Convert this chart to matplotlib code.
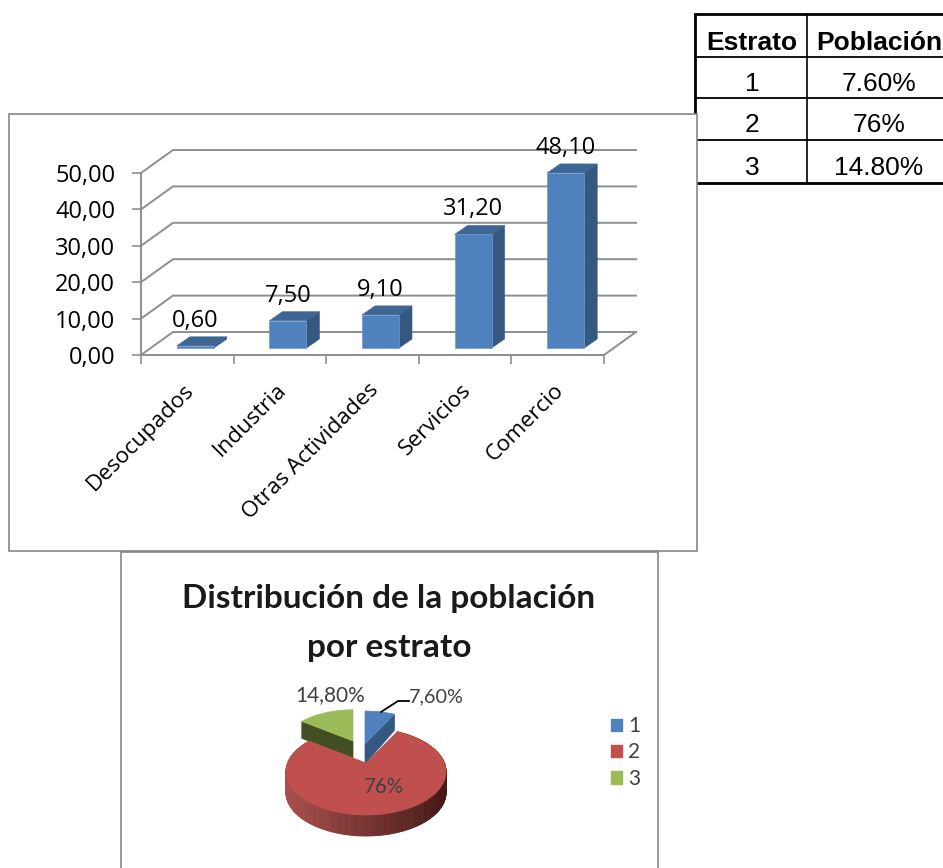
import numpy as np
import matplotlib
matplotlib.use("Agg")
import matplotlib.pyplot as plt
from matplotlib.patches import Polygon, Rectangle, Patch

W, H = 943, 868

# ---- data ----
categories = ["Desocupados", "Industria", "Otras Actividades", "Servicios", "Comercio"]
sector_values = [0.60, 7.50, 9.10, 31.20, 48.10]
y_ticks = [0, 10, 20, 30, 40, 50]

strata = ["1", "2", "3"]
pie_values = [7.6, 76.0, 14.8]
pie_labels = ["7,60%", "76%", "14,80%"]
table_head = ["Estrato", "Población"]
table_pop = ["7.60%", "76%", "14.80%"]
pie_title = "Distribución de la población\npor estrato"

# ---- style ----
GRID = "#8E8E8E"
FRAME = "#868686"
BLUE, BLUE_TOP, BLUE_SIDE = "#4F81BD", "#3F6594", "#34587F"
RED = "#C0504D"
GREEN, GREEN_SIDE = "#9BBB59", "#414F22"
TXT = "#404040"
SANS = "Lato"
OPEN = "Open Sans"
ARIAL = "Liberation Sans"

fig = plt.figure(figsize=(W / 100, H / 100), dpi=100, facecolor="white")

# ---- page layer in pixel units (table, frames, pie) ----
pg = fig.add_axes([0, 0, 1, 1])
pg.set_xlim(0, W)
pg.set_ylim(H, 0)
pg.axis("off")

# table
t_left, t_mid, t_right = 695, 807, 943
t_rows = [14, 57, 98, 140, 183]
pg.plot([t_left, t_left], [t_rows[0], t_rows[-1]], color="k", lw=2.0, zorder=1)
pg.plot([t_mid, t_mid], [t_rows[0], t_rows[-1]], color="k", lw=1.2, zorder=1)
for i, yy in enumerate(t_rows):
    pg.plot([t_left, t_right], [yy, yy], color="k",
            lw=2.0 if i in (0, 4) else 1.3, zorder=1, solid_capstyle="butt")
pg.text((t_left + t_mid) / 2 + 1, 43, table_head[0], family=ARIAL, weight="bold",
        fontsize=19, ha="center", va="center", color="k")
pg.text((t_mid + t_right) / 2 + 4, 43, table_head[1], family=ARIAL, weight="bold",
        fontsize=19, ha="center", va="center", color="k")
for i, (s, p) in enumerate(zip(strata, table_pop)):
    yc = [84, 125, 168][i]
    pg.text((t_left + t_mid) / 2 + 1, yc, s, family=ARIAL, fontsize=19, ha="center", va="center", color="k")
    pg.text((t_mid + t_right) / 2 + 4, yc, p, family=ARIAL, fontsize=19, ha="center", va="center", color="k")

# chart frames
pg.add_patch(Rectangle((9, 114), 688, 437, fc="white", ec=FRAME, lw=1.2, zorder=2))
pg.add_patch(Rectangle((121, 552), 537, 330, fc="white", ec=FRAME, lw=1.2, zorder=2))

# ---- 3-D pie, projected ----
P_CX, P_CY, P_RX, P_RY, P_K, P_D = 366, 763, 78.4, 41.6, 0.2, 21


def project(t, scale=1.0, off=(0, 0)):
    u, v = np.sin(t), np.cos(t)
    d = 1 + P_K * v
    return P_CX + off[0] + scale * P_RX * u / d, P_CY + off[1] - scale * P_RY * v / d


edges = np.deg2rad(np.cumsum([0] + pie_values) / sum(pie_values) * 360)
# slice 1 and 3 are pulled out of the pie
off_b, sc_b = (-1, -19), 0.95
off_g, sc_g = (-13, -22), 0.9

# green slice
tg = np.linspace(edges[2], edges[3], 40)
gx, gy = project(tg, sc_g, off_g)
ax0, ay0 = P_CX + off_g[0], P_CY + off_g[1]
pg.add_patch(Polygon([(gx[0], gy[0]), (ax0, ay0), (ax0, ay0 + 17), (gx[0], gy[0] + 17)],
                     fc=GREEN_SIDE, ec=GREEN_SIDE, lw=0.5, zorder=3))
pg.add_patch(Polygon(np.r_[[[ax0, ay0]], np.c_[gx, gy]], fc=GREEN, ec=GREEN, lw=0.5, zorder=3.1))

# blue slice
tb = np.linspace(edges[0], edges[1], 30)
bx, by = project(tb, sc_b, off_b)
ax1, ay1 = P_CX + off_b[0], P_CY + off_b[1]
pg.add_patch(Polygon([(bx[-1], by[-1]), (ax1, ay1), (ax1, ay1 + 20), (bx[-1], by[-1] + 16)],
                     fc=BLUE_SIDE, ec=BLUE_SIDE, lw=0.5, zorder=3))
pg.add_patch(Polygon(np.r_[[[ax1, ay1]], np.c_[bx, by]], fc=BLUE, ec=BLUE, lw=0.5, zorder=3.1))

# red slice: gradient side wall, then top
tr = np.linspace(edges[1], edges[2], 260)
rx, ry = project(tr)
side_light, side_dark = np.array([0.66, 0.31, 0.30]), np.array([0.27, 0.10, 0.09])
xs = (rx - rx.min()) / (rx.max() - rx.min())
for i in range(len(tr) - 1):
    col = tuple(side_light + (side_dark - side_light) * (0.5 * (xs[i] + xs[i + 1])))
    pg.add_patch(Polygon([(rx[i], ry[i]), (rx[i + 1], ry[i + 1]),
                          (rx[i + 1], ry[i + 1] + P_D), (rx[i], ry[i] + P_D)],
                         fc=col, ec=col, lw=0.6, zorder=3.3))
pg.add_patch(Polygon(np.r_[[[P_CX, P_CY]], np.c_[rx, ry]], fc=RED, ec=RED, lw=0.5, zorder=3.5))

# pie texts
pg.text(389, 623, pie_title, family=SANS, weight="bold", fontsize=24, ha="center", va="center",
        color="#1A1A1A", linespacing=1.85, zorder=5)
pg.text(436, 697, pie_labels[0], family=SANS, fontsize=14.3, ha="center", va="center", color=TXT, zorder=5)
pg.text(384, 787, pie_labels[1], family=SANS, fontsize=14.8, ha="center", va="center", color=TXT, zorder=5)
pg.text(330, 695, pie_labels[2], family=SANS, fontsize=15, ha="center", va="center", color=TXT, zorder=5)
pg.plot([381, 398, 409], [712, 701, 701], color="k", lw=1.3, zorder=5)

handles = [Patch(fc=c, ec=c) for c in (BLUE, RED, GREEN)]
leg = pg.legend(handles, strata, loc="upper left", bbox_to_anchor=(605 / W, 1 - 710 / H),
                bbox_transform=fig.transFigure, frameon=False, handlelength=0.53, handleheight=0.53,
                handletextpad=0.29, labelspacing=0.3, borderpad=0.3, borderaxespad=0,
                prop={"family": SANS, "size": 15})
leg.set_zorder(5)
for tx in leg.get_texts():
    tx.set_color(TXT)

# ---- 3-D column chart ----
F_L, F_R, F_B, F_T = 141, 604, 355, 173
ax = fig.add_axes([F_L / W, 1 - F_B / H, (F_R - F_L) / W, (F_B - F_T) / H])
ax.patch.set_visible(False)
ax.set_xlim(0, len(categories))
ax.set_ylim(0, y_ticks[-1])
PX, PY = len(categories) / (F_R - F_L), y_ticks[-1] / (F_B - F_T)
dx, dy = 32 * PX, 23 * PY

# walls and floor
for v in y_ticks:
    ax.plot([0, dx, len(categories) + dx], [v, v + dy, v + dy], color=GRID, lw=1.4,
            clip_on=False, zorder=1, solid_joinstyle="miter")
ax.plot([len(categories), len(categories) + dx], [0, dy], color=GRID, lw=1.4, clip_on=False, zorder=1)

for s in ("top", "right"):
    ax.spines[s].set_visible(False)
for s in ("left", "bottom"):
    ax.spines[s].set_color(GRID)
    ax.spines[s].set_linewidth(1.4)
ax.set_yticks(y_ticks)
ax.set_yticklabels([f"{v:.2f}".replace(".", ",") for v in y_ticks], family=OPEN, fontsize=17, color="k")
ax.tick_params(axis="y", length=6.5, width=1.2, color=GRID, pad=12)
ax.set_xticks(range(len(categories) + 1))
ax.set_xticklabels([])
ax.tick_params(axis="x", length=6.5, width=1.2, color=GRID)

# columns
bw, ox, oy, bdx, bdy = 37 * PX, 8 * PX, 7 * PY, 13 * PX, 9 * PY
for i, (name, val) in enumerate(zip(categories, sector_values)):
    x0 = i + 0.5 + ox - bw / 2
    x1 = x0 + bw
    b = oy
    t = oy + val
    ax.add_patch(Polygon([(x1, b), (x1 + bdx, b + bdy), (x1 + bdx, t + bdy), (x1, t)],
                         fc=BLUE_SIDE, ec=BLUE_SIDE, lw=0.4, clip_on=False, zorder=3))
    ax.add_patch(Polygon([(x0, t), (x1, t), (x1 + bdx, t + bdy), (x0 + bdx, t + bdy)],
                         fc=BLUE_TOP, ec=BLUE_TOP, lw=0.4, clip_on=False, zorder=3))
    ax.add_patch(Rectangle((x0, b), bw, val, fc=BLUE, ec="#6F9BD1", lw=0.5, clip_on=False, zorder=4))
    ax.text((x0 + x1) / 2, t + 25 * PY, f"{val:.2f}".replace(".", ","), family=OPEN, fontsize=17,
            ha="center", va="center", color="k", zorder=5, clip_on=False)
    ax.text(i + 0.5 + 3 * PX, -(32 * PY), name, family=OPEN, fontsize=16.2, rotation=45,
            rotation_mode="anchor", ha="right", va="center", color="k", clip_on=False)

fig.savefig("out.png", dpi=100)
